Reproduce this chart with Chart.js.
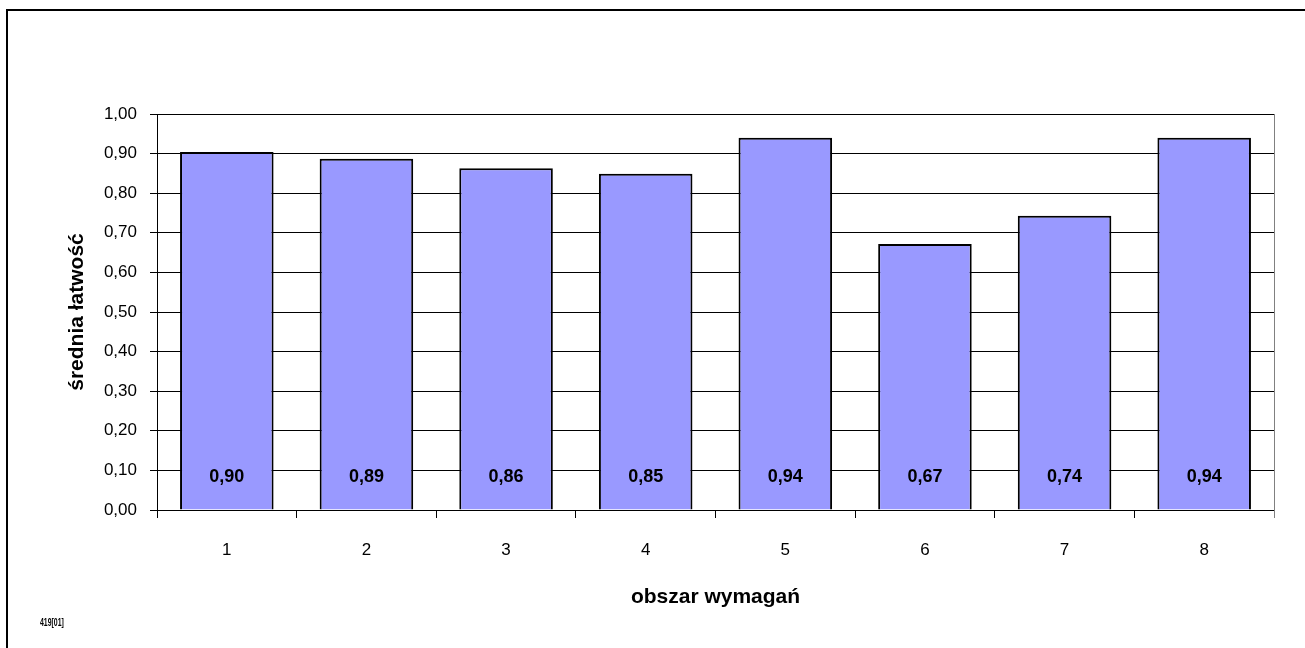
<!DOCTYPE html>
<html>
<head>
<meta charset="utf-8">
<script src="https://cdn.jsdelivr.net/npm/chart.js@4"></script>
<style>
    body { margin: 0; background: #fff; }
    #wrap { width: 1305px; height: 648px; }
</style>
</head>
<body>
<div id="wrap"><canvas id="chart1"></canvas></div>
<script>
// obszary wymagań i średnie łatwości
const categories = ["1", "2", "3", "4", "5", "6", "7", "8"];
const values = [0.904, 0.887, 0.863, 0.849, 0.940, 0.672, 0.743, 0.940];
const yTicks = [0, 0.1, 0.2, 0.3, 0.4, 0.5, 0.6, 0.7, 0.8, 0.9, 1.0];

const FONT = "'Liberation Sans', Arial, sans-serif";

const fmt = v => v.toFixed(2).replace(".", ",");

// ramka, prawa krawędź obszaru wykresu, etykiety słupków, sygnatura
const extras = {
    id: "extras",
    afterDraw(chart) {
        const c = chart.ctx;
        const area = chart.chartArea;
        c.save();
        c.strokeStyle = "#000";
        c.lineWidth = 2;
        c.strokeRect(7, 10, 1320, 660);

        c.strokeStyle = "#808080";
        c.lineWidth = 1;
        c.beginPath();
        c.moveTo(Math.round(area.right) + 0.5, area.top);
        c.lineTo(Math.round(area.right) + 0.5, area.bottom + 8);
        c.stroke();

        const y = chart.scales.y;
        c.fillStyle = "#000";
        c.font = "bold 18px " + FONT;
        c.textAlign = "center";
        c.textBaseline = "middle";
        chart.getDatasetMeta(0).data.forEach((bar, i) => {
            c.fillText(fmt(values[i]), bar.x, y.getPixelForValue(0) - 33);
        });

        // mały, zwężony podpis w lewym dolnym rogu
        c.font = "bold 11px " + FONT;
        c.textAlign = "left";
        c.translate(40, 623);
        c.scale(0.63, 1);
        c.fillText("419[01]", 0, 0);
        c.restore();
    }
};

new Chart(document.getElementById("chart1"), {
    type: "bar",
    data: {
        labels: categories,
        datasets: [
            {
                data: values,
                backgroundColor: "#9999FF",
                borderColor: "#000",
                borderWidth: 2,
                barPercentage: 0.67,
                categoryPercentage: 1
            }
        ]
    },
    options: {
        responsive: true,
        maintainAspectRatio: false,
        animation: false,
        layout: {
            padding: { left: 58, top: 114, right: 31, bottom: 38 }
        },
        plugins: {
            legend: { display: false },
            tooltip: { enabled: false }
        },
        scales: {
            x: {
                afterFit(scale) { scale.height = 100; },
                grid: {
                    offset: true,
                    drawOnChartArea: false,
                    drawTicks: true,
                    tickLength: 8,
                    color: "#000"
                },
                border: { color: "#000", width: 1 },
                ticks: {
                    color: "#000",
                    padding: 22,
                    font: { family: FONT, size: 17 }
                },
                title: {
                    display: true,
                    text: "obszar wymagań",
                    color: "#000",
                    padding: { top: 0, bottom: 0 },
                    font: { family: FONT, size: 21, weight: "bold" }
                }
            },
            y: {
                min: 0,
                max: 1,
                afterFit(scale) { scale.width = 99; },
                afterBuildTicks(scale) {
                    scale.ticks = yTicks.map(v => ({ value: v }));
                },
                grid: {
                    color: "#000",
                    lineWidth: 1,
                    drawTicks: true,
                    tickLength: 7
                },
                border: { color: "#000", width: 1 },
                ticks: {
                    color: "#000",
                    padding: 13,
                    font: { family: FONT, size: 17 },
                    callback: v => fmt(v)
                },
                title: {
                    display: true,
                    text: "średnia łatwość",
                    color: "#000",
                    padding: { top: 7, bottom: 0 },
                    font: { family: FONT, size: 21, weight: "bold" }
                }
            }
        }
    },
    plugins: [extras]
});
</script>
</body>
</html>
